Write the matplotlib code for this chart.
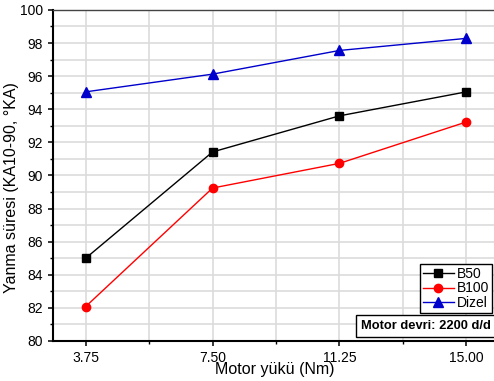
import matplotlib
matplotlib.use("Agg")
import matplotlib.pyplot as plt
from matplotlib.ticker import MultipleLocator

plt.rcParams['font.family'] = ['Liberation Sans', 'DejaVu Sans']

# data
yuk = [3.75, 7.50, 11.25, 15.00]
b50 = [85.0, 91.42, 93.6, 95.05]
b100 = [82.08, 89.24, 90.73, 93.23]
dizel = [95.05, 96.12, 97.55, 98.28]
xticklabels = ["3.75", "7.50", "11.25", "15.00"]

fig = plt.figure(figsize=(4.94, 3.81), dpi=100)
ax = fig.add_axes([0.107, 0.105, 0.9, 0.869])

ax.plot(yuk, b50, color="black", marker="s", markersize=5.5, lw=1, label="B50")
ax.plot(yuk, b100, color="red", marker="o", markersize=6, lw=1, label="B100")
ax.plot(yuk, dizel, color="#0000cc", marker="^", markersize=6.5, lw=1, label="Dizel")

ax.set_xlim(2.78, 15.92)
ax.set_ylim(80, 100)
ax.set_xticks(yuk)
ax.set_xticklabels(xticklabels)
ax.xaxis.set_minor_locator(MultipleLocator(1.875))
ax.yaxis.set_major_locator(MultipleLocator(2))
ax.yaxis.set_minor_locator(MultipleLocator(1))

# light grid on major and minor ticks
ax.grid(True, which="both", color="#dcdcdc", lw=1.2, zorder=0)
ax.set_axisbelow(True)

ax.spines["left"].set_linewidth(1.5)
ax.spines["bottom"].set_linewidth(1.5)
ax.spines["top"].set_color("#444444")
ax.spines["top"].set_linewidth(1)
ax.spines["right"].set_visible(False)

ax.tick_params(which="major", direction="out", length=3.5, width=1.1, labelsize=10, pad=3.5)
ax.tick_params(which="minor", direction="out", length=2, width=1.0)
ax.tick_params(axis="x", which="both", top=False)
ax.tick_params(axis="x", which="major", pad=4)

ax.set_xlabel("Motor yükü (Nm)", fontsize=11.5)
ax.xaxis.label.set_verticalalignment("top")
ax.xaxis.set_label_coords(0.5, -0.063)
ax.set_ylabel("Yanma süresi (KA10-90, °KA)", fontsize=11.5)
ax.yaxis.set_label_coords(-0.0765, 0.464)

leg = ax.legend(loc="lower right", bbox_to_anchor=(0.987, 0.085), fontsize=10,
                frameon=True, fancybox=False, edgecolor="black", framealpha=1,
                handlelength=2.2, handletextpad=0.2, borderpad=0.2,
                labelspacing=0.05, borderaxespad=0)
leg.get_frame().set_linewidth(1)

ax.text(0.985, 0.028, "Motor devri: 2200 d/d", transform=ax.transAxes,
        ha="right", va="bottom", fontsize=9.3, fontweight="bold",
        bbox=dict(boxstyle="square,pad=0.4", fc="white", ec="black", lw=1))

fig.savefig("out.png", dpi=100)
